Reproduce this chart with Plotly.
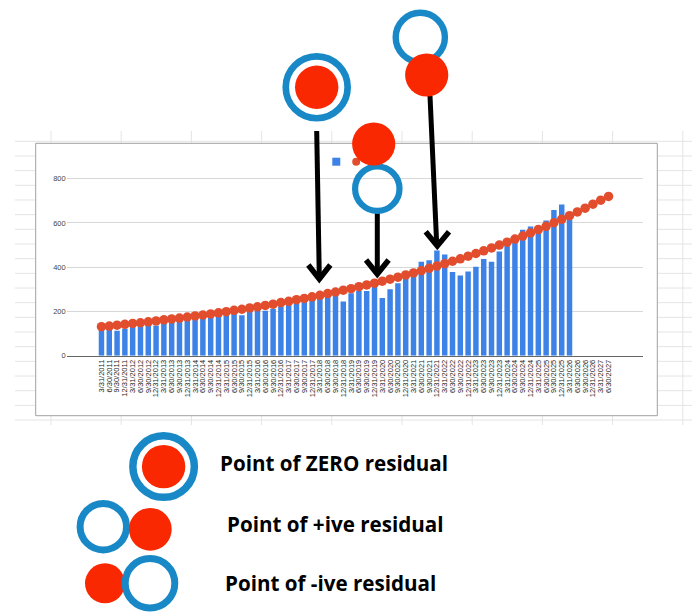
import plotly.graph_objects as go

# --- canvas: the page puts the figure 8px in from the top-left corner ---
OFF = 8
W, H = 700 - OFF, 615 - OFF

# --- data ---
quarters = [
    "3/31/2011", "6/30/2011", "9/30/2011", "12/31/2011",
    "3/31/2012", "6/30/2012", "9/30/2012", "12/31/2012",
    "3/31/2013", "6/30/2013", "9/30/2013", "12/31/2013",
    "3/31/2014", "6/30/2014", "9/30/2014", "12/31/2014",
    "3/31/2015", "6/30/2015", "9/30/2015", "12/31/2015",
    "3/31/2016", "6/30/2016", "9/30/2016", "12/31/2016",
    "3/31/2017", "6/30/2017", "9/30/2017", "12/31/2017",
    "3/31/2018", "6/30/2018", "9/30/2018", "12/31/2018",
    "3/31/2019", "6/30/2019", "9/30/2019", "12/31/2019",
    "3/31/2020", "6/30/2020", "9/30/2020", "12/31/2020",
    "3/31/2021", "6/30/2021", "9/30/2021", "12/31/2021",
    "3/31/2022", "6/30/2022", "9/30/2022", "12/31/2022",
    "3/31/2023", "6/30/2023", "9/30/2023", "12/31/2023",
    "3/31/2024", "6/30/2024", "9/30/2024", "12/31/2024",
    "3/31/2025", "6/30/2025", "9/30/2025", "12/31/2025",
    "3/31/2026", "6/30/2026", "9/30/2026", "12/31/2026",
    "3/31/2027", "6/30/2027",
]

# actual values (bars), 3/31/2011 .. 3/31/2026
actual = [
    124, 124, 113, 122, 134, 136, 142, 137, 152, 157,
    160, 164, 166, 170, 176, 184, 188, 193, 183, 203,
    204, 203, 212, 222, 232, 242, 250, 253, 258, 267,
    274, 245, 282, 292, 293, 319, 261, 300, 328, 357,
    390, 425, 431, 475, 458, 378, 362, 381, 402, 437,
    425, 471, 500, 521, 569, 584, 565, 611, 659, 684,
    633,
]

# fitted trend (red dots), 3/31/2011 .. 6/30/2027
trend = [
    131, 134, 138, 142, 146, 149, 153, 157, 162, 166,
    170, 175, 180, 184, 189, 194, 199, 205, 210, 216,
    221, 227, 233, 240, 246, 253, 259, 266, 273, 281,
    288, 296, 303, 312, 320, 328, 337, 346, 355, 365,
    374, 384, 395, 405, 416, 427, 438, 450, 462, 474,
    487, 500, 513, 527, 541, 555, 570, 585, 601, 617,
    633, 650, 667, 685, 703, 720,
]

legend_texts = ["Point of ZERO residual", "Point of +ive residual", "Point of -ive residual"]

BLUE_BAR = "#3d82e6"
RED_DOT = "#e24e2d"
RING = "#1889c6"
DISK = "#fa2800"


# screen pixel -> paper fraction
def px(x):
    return (x - OFF) / W


def py(y):
    return 1 - (y - OFF) / H


def ring(cx, cy, r_out, width):
    r = r_out - width / 2
    return dict(type="circle", xref="paper", yref="paper",
                x0=px(cx - r), x1=px(cx + r), y0=py(cy + r), y1=py(cy - r),
                line=dict(color=RING, width=width), fillcolor="rgba(0,0,0,0)")


def disk(cx, cy, r, color=DISK):
    return dict(type="circle", xref="paper", yref="paper",
                x0=px(cx - r), x1=px(cx + r), y0=py(cy + r), y1=py(cy - r),
                line=dict(width=0), fillcolor=color)


def seg(points, width=5):
    path = "M " + " L ".join(f"{px(x)},{py(y)}" for x, y in points)
    return dict(type="path", xref="paper", yref="paper", path=path,
                line=dict(color="black", width=width))


fig = go.Figure()
fig.add_trace(go.Bar(x=quarters[:len(actual)], y=actual, marker_color=BLUE_BAR,
                     marker_line_width=0, name="Actual"))
fig.add_trace(go.Scatter(x=quarters, y=trend, mode="lines+markers", name="Trend",
                         line=dict(color=RED_DOT, width=1.5),
                         marker=dict(color=RED_DOT, size=9.5)))

shapes = []
# spreadsheet grid behind the chart
y = 141.3
while y < 422:
    shapes.append(dict(type="line", xref="paper", yref="paper", layer="below",
                       x0=px(15), x1=1, y0=py(y), y1=py(y),
                       line=dict(color="#e4e4e4", width=1)))
    y += 14.67
for k in range(10):
    x = 51 + 70.2 * k
    shapes.append(dict(type="line", xref="paper", yref="paper", layer="below",
                       x0=px(x), x1=px(x), y0=py(131), y1=py(425),
                       line=dict(color="#e4e4e4", width=1)))
# chart frame
shapes.append(dict(type="rect", xref="paper", yref="paper", layer="below",
                   x0=px(35.7), x1=px(657.3), y0=py(415.7), y1=py(143.3),
                   fillcolor="white", line=dict(color="#a0a0a0", width=1)))
# legend glyphs of the sheet chart
shapes.append(dict(type="rect", xref="paper", yref="paper",
                   x0=px(332.3), x1=px(340.3), y0=py(165.7), y1=py(157.7),
                   fillcolor=BLUE_BAR, line=dict(width=0)))
shapes.append(disk(356.2, 161.7, 4, RED_DOT))

# arrows
shapes.append(seg([(316.7, 131), (319.3, 277)]))
shapes.append(seg([(308.3, 265), (319.3, 279), (330.3, 265)], 5.5))
shapes.append(seg([(377.3, 212), (377.3, 273)]))
shapes.append(seg([(366, 260), (377.3, 274), (388.6, 260)], 5.5))
shapes.append(seg([(430, 96), (436.7, 244)]))
shapes.append(seg([(425.7, 231.7), (437.3, 246), (449, 231.7)], 5.5))

# overlay markers on the chart
shapes.append(ring(316.7, 87.3, 34.3, 6.7))
shapes.append(disk(316.7, 87.3, 21.7))
shapes.append(ring(377.3, 188.7, 25.3, 6.2))
shapes.append(disk(373.7, 144, 21.6))
shapes.append(ring(420.3, 37.3, 27.8, 6.4))
shapes.append(disk(426.7, 75, 21.6))

# explanation key below the chart
shapes.append(ring(163.6, 466.6, 34.5, 7.5))
shapes.append(disk(163.6, 466.6, 21.7))
shapes.append(ring(103.3, 526.7, 26.7, 7))
shapes.append(disk(150.3, 529.3, 21.4))
shapes.append(disk(105, 583.3, 20))
shapes.append(ring(150, 583.3, 28.3, 7))

annotations = []
for text, x, y in zip(legend_texts, [218.3, 225, 223], [462.7, 524, 583.3]):
    annotations.append(dict(text=f"<b>{text}</b>", xref="paper", yref="paper",
                            x=px(x), y=py(y), xanchor="left", yanchor="middle",
                            showarrow=False,
                            font=dict(family="Open Sans", size=20.6, color="black")))

fig.update_layout(
    width=W, height=H, autosize=False,
    margin=dict(l=0, r=0, t=0, b=0),
    paper_bgcolor="white", plot_bgcolor="rgba(0,0,0,0)",
    showlegend=False, bargap=0.3,
    font=dict(family="Liberation Sans"),
    shapes=shapes, annotations=annotations,
)
fig.update_xaxes(
    type="category", categoryorder="array", categoryarray=quarters,
    domain=[px(66.7), px(643.3)], tickmode="array", tickvals=quarters,
    tickangle=-90, tickfont=dict(size=7.5, color="#222"),
    showgrid=False, showline=True, linecolor="#666", linewidth=1,
    ticks="", automargin=False,
)
fig.update_yaxes(
    range=[0, 900], domain=[py(355.7), py(156.6)], dtick=200,
    tickfont=dict(size=7.5, color="#444"), gridcolor="#d8d8d8",
    zeroline=False, showline=False, ticks="", automargin=False,
)

fig.write_html("out.html")
